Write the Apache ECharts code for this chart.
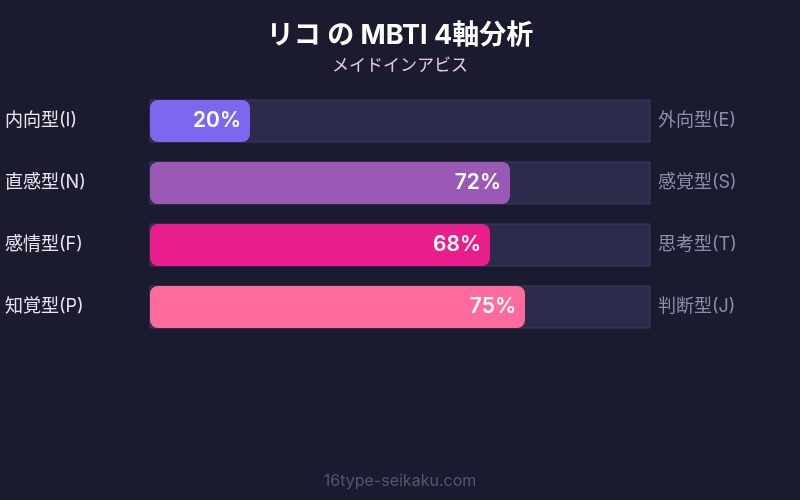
<!DOCTYPE html>
<html>
<head>
<meta charset="utf-8">
<script src="https://cdn.jsdelivr.net/npm/echarts@6/dist/echarts.min.js"></script>
<style>
  html, body { margin: 0; padding: 0; background: #1b1b2f; }
  #main { width: 800px; height: 500px; }
</style>
</head>
<body>
<div id="main"></div>
<script>
// 左側ラベル
var leftLabels = ['内向型(I)', '直感型(N)', '感情型(F)', '知覚型(P)'];
// 右側ラベル
var rightLabels = ['外向型(E)', '感覚型(S)', '思考型(T)', '判断型(J)'];
// 値 (%)
var values = [20, 72, 68, 75];
var barColors = ['#7b68ee', '#9b59b6', '#e91e8c', '#ff6b9d'];

var chart = echarts.init(document.getElementById('main'));

var fontFamily = 'Inter, "Noto Sans CJK JP", sans-serif';

chart.setOption({
  backgroundColor: '#1b1b2f',
  animation: false,
  title: [{
    text: 'リコ の MBTI 4軸分析',
    subtext: 'メイドインアビス',
    left: 'center',
    top: 17,
    itemGap: 8,
    textStyle: { color: '#ffffff', fontSize: 27, fontWeight: 'bold', fontFamily: fontFamily },
    subtextStyle: { color: '#e6c8e6', fontSize: 17, fontFamily: fontFamily }
  }, {
    text: '16type-seikaku.com',
    left: 'center',
    bottom: 6,
    textStyle: { color: '#55556f', fontSize: 16, fontWeight: 'normal', fontFamily: fontFamily }
  }],
  grid: { left: 150, right: 150, top: 90, height: 248 },
  xAxis: { type: 'value', min: 0, max: 100, show: false },
  yAxis: [{
    type: 'category',
    data: leftLabels,
    inverse: true,
    position: 'left',
    axisLine: { show: false },
    axisTick: { show: false },
    axisLabel: {
      align: 'left', margin: 145,
      color: '#e6e6ee', fontSize: 18, fontFamily: fontFamily,
      padding: [0, 0, 4, 0]
    }
  }, {
    type: 'category',
    data: rightLabels,
    inverse: true,
    position: 'right',
    axisLine: { show: false },
    axisTick: { show: false },
    axisLabel: {
      margin: 8,
      color: '#8e8ea4', fontSize: 18, fontFamily: fontFamily,
      padding: [0, 0, 4, 0]
    }
  }],
  series: [{
    type: 'bar',
    yAxisIndex: 0,
    barWidth: 42,
    data: values.map(function (v, i) {
      return { value: v, itemStyle: { color: barColors[i] } };
    }),
    itemStyle: { borderRadius: 8 },
    showBackground: true,
    backgroundStyle: { color: '#2d2b4b', borderColor: '#3e3d5e', borderWidth: 1 },
    label: {
      show: true,
      position: 'insideRight',
      distance: 9,
      formatter: '{c}%',
      color: '#ffffff',
      fontSize: 21,
      fontWeight: 600,
      fontFamily: fontFamily
    }
  }]
});
</script>
</body>
</html>
